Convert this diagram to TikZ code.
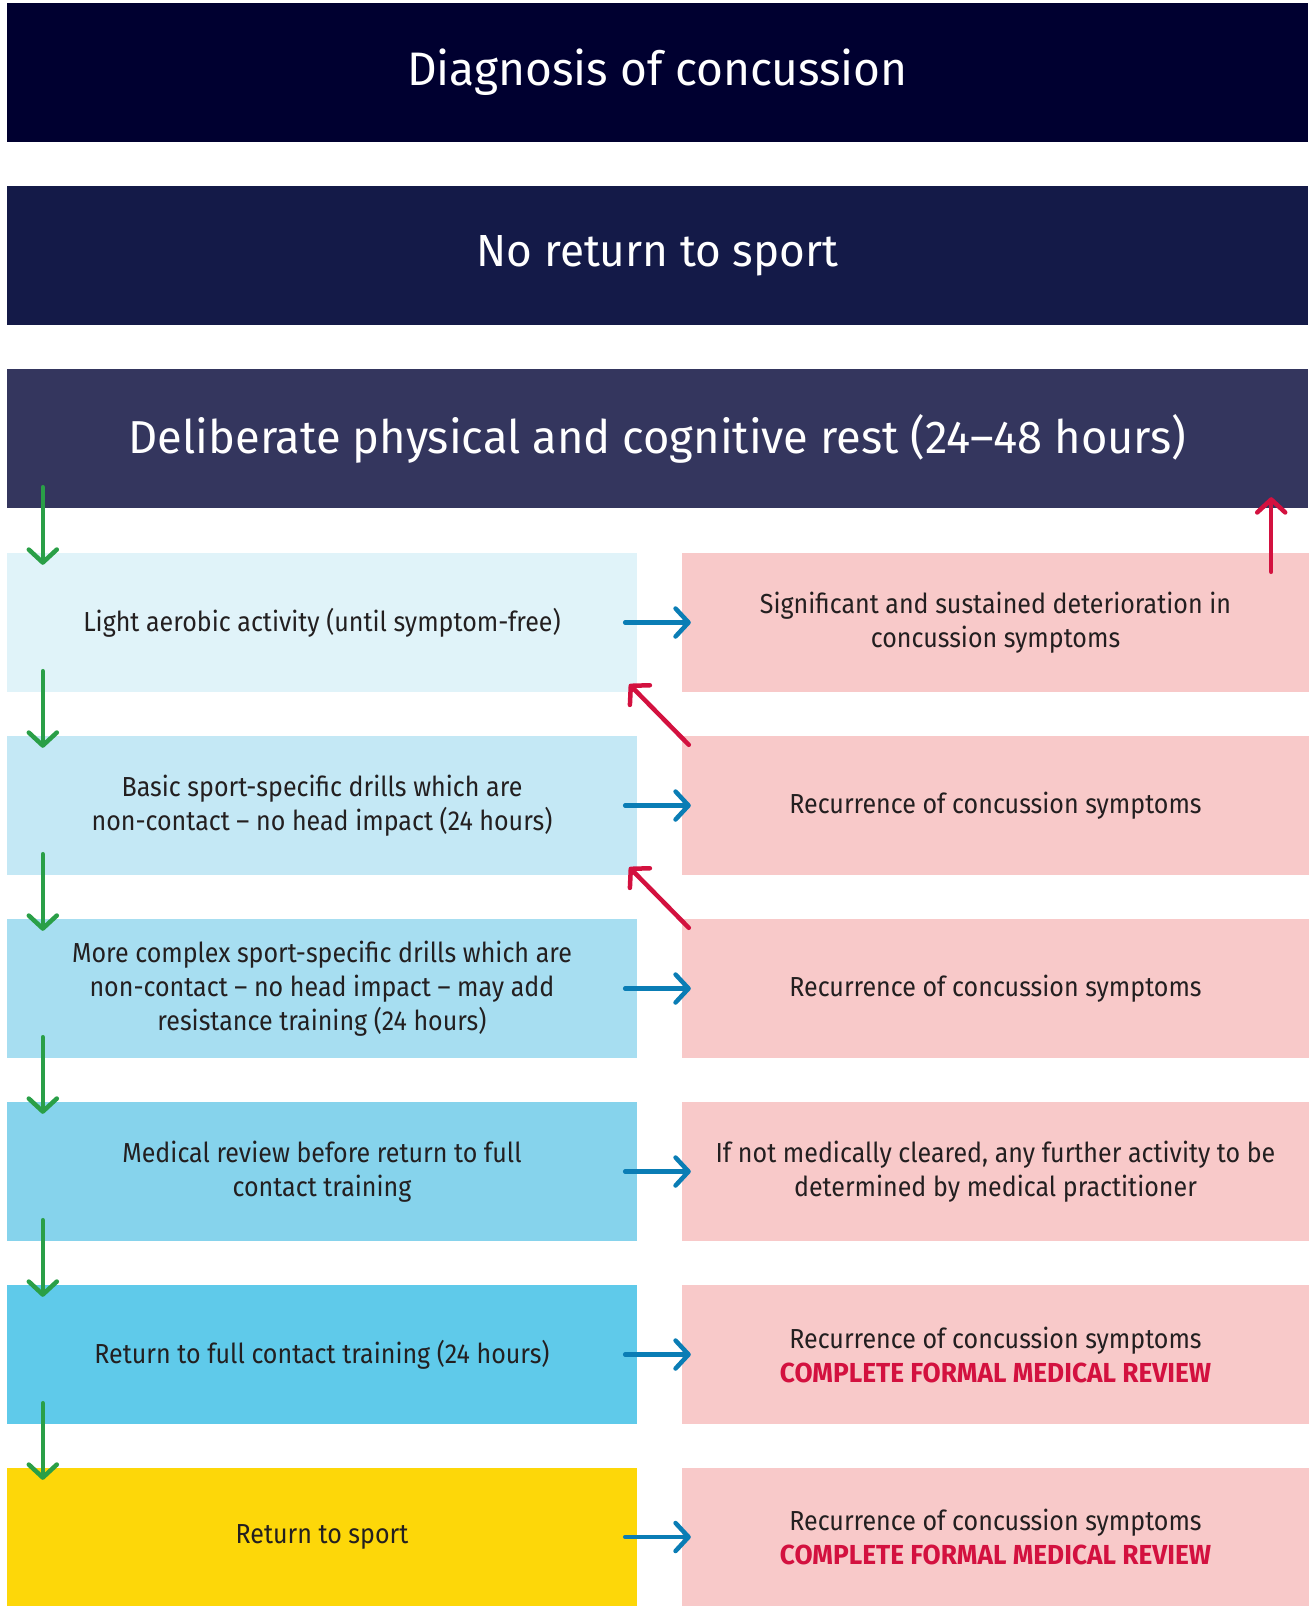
\documentclass[tikz,border=0pt]{standalone}
\usepackage{fontspec}
\setmainfont{Fira Sans}[FakeStretch=0.91, BoldFeatures={FakeStretch=0.955}]
\newfontfamily\headfont{Fira Sans}[FakeStretch=0.98]
\usetikzlibrary{arrows.meta}
\definecolor{cA}{HTML}{000030}
\definecolor{cB}{HTML}{141A48}
\definecolor{cC}{HTML}{34365E}
\definecolor{lA}{HTML}{E0F3F9}
\definecolor{lB}{HTML}{C4E8F5}
\definecolor{lC}{HTML}{A7DEF1}
\definecolor{lD}{HTML}{86D3EC}
\definecolor{lE}{HTML}{5FCAEA}
\definecolor{yel}{HTML}{FDD709}
\definecolor{pnk}{HTML}{F8C9C9}
\definecolor{grn}{HTML}{2A9F47}
\definecolor{blu}{HTML}{0A7DB5}
\definecolor{rd}{HTML}{D3113F}
\definecolor{txt}{HTML}{231F20}
\tikzset{
  headbox/.style={inner sep=0pt, minimum width=1301pt, minimum height=139pt, text=white, font=\headfont\fontsize{47}{56}\selectfont},
  leftbox/.style={inner sep=0pt, minimum width=630pt, minimum height=139pt, text=txt, align=center, font=\fontsize{27.5}{34}\selectfont},
  rightbox/.style={inner sep=0pt, minimum width=627pt, minimum height=139pt, fill=pnk, text=txt, align=center, font=\fontsize{27.5}{34}\selectfont},
  arr/.style={line width=4.5pt, line cap=round, -{Straight Barb[length=13pt,width=28pt,round]}},
  garr/.style={arr, draw=grn},
  barr/.style={arr, draw=blu},
  rarr/.style={arr, draw=rd},
}
\newcommand{\cfmr}{{\bfseries\color{rd}COMPLETE FORMAL MEDICAL REVIEW}}
\begin{document}
\begin{tikzpicture}[x=1pt,y=-1pt]
\useasboundingbox[fill=white] (0,0) rectangle (1310,1606);
\node[headbox, fill=cA] (diag) at (657.5,72.5) {Diagnosis of concussion};
\node[headbox, fill=cB, font=\headfont\fontsize{45}{54}\selectfont] (noret) at (657.5,255.5) {No return to sport};
\node[headbox, fill=cC, font=\headfont\fontsize{46.2}{56}\selectfont] (rest) at (657.5,438.5) {Deliberate physical and cognitive rest (24–48 hours)};
% left column
\node[leftbox, fill=lA] (l1) at (322,622.5) {Light aerobic activity (until symptom-free)};
\node[leftbox, fill=lB] (l2) at (322,805.5) {Basic sport-specific drills which are\\non-contact – no head impact (24 hours)};
\node[leftbox, fill=lC] (l3) at (322,988.5) {More complex sport-specific drills which are\\non-contact – no head impact – may add\\resistance training (24 hours)};
\node[leftbox, fill=lD] (l4) at (322,1171.5) {Medical review before return to full\\contact training};
\node[leftbox, fill=lE] (l5) at (322,1354.5) {Return to full contact training (24 hours)};
\node[leftbox, fill=yel, minimum height=138pt] (l6) at (322,1537) {Return to sport};
% right column
\node[rightbox] (r1) at (995.5,622.5) {Significant and sustained deterioration in\\concussion symptoms};
\node[rightbox] (r2) at (995.5,805.5) {Recurrence of concussion symptoms};
\node[rightbox] (r3) at (995.5,988.5) {Recurrence of concussion symptoms};
\node[rightbox] (r4) at (995.5,1171.5) {If not medically cleared, any further activity to be\\determined by medical practitioner};
\node[rightbox] (r5) at (995.5,1354.5) {Recurrence of concussion symptoms\\\cfmr};
\node[rightbox, minimum height=138pt] (r6) at (995.5,1537) {Recurrence of concussion symptoms\\\cfmr};
% green arrows
\draw[garr] ([xshift=36pt,yshift=21pt]rest.south west) -- ([xshift=36pt,yshift=-12pt]l1.north west);
\draw[garr] ([xshift=36pt,yshift=21pt]l1.south west) -- ([xshift=36pt,yshift=-12pt]l2.north west);
\draw[garr] ([xshift=36pt,yshift=21pt]l2.south west) -- ([xshift=36pt,yshift=-12pt]l3.north west);
\draw[garr] ([xshift=36pt,yshift=21pt]l3.south west) -- ([xshift=36pt,yshift=-12pt]l4.north west);
\draw[garr] ([xshift=36pt,yshift=21pt]l4.south west) -- ([xshift=36pt,yshift=-12pt]l5.north west);
\draw[garr] ([xshift=36pt,yshift=21pt]l5.south west) -- ([xshift=36pt,yshift=-12pt]l6.north west);
% blue arrows
\foreach \i in {1,...,6}{
  \draw[barr] ([xshift=-12pt]l\i.east) -- ([xshift=9pt]r\i.west);
}
% red arrows
\draw[rarr] ([xshift=-38pt,yshift=-19pt]r1.north east) -- ([xshift=-37pt,yshift=11pt]rest.south east);
\draw[rarr] ([xshift=7pt,yshift=-9pt]r2.north west) -- ([xshift=-8pt,yshift=8pt]l1.south east);
\draw[rarr] ([xshift=7pt,yshift=-9pt]r3.north west) -- ([xshift=-8pt,yshift=8pt]l2.south east);
\end{tikzpicture}
\end{document}
